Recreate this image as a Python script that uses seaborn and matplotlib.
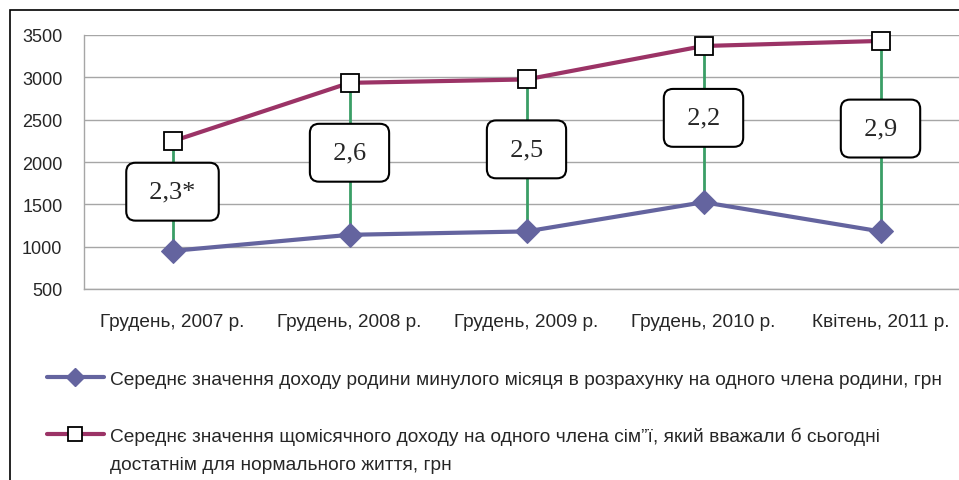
import matplotlib
matplotlib.use("Agg")
import matplotlib.pyplot as plt
from matplotlib.patches import Rectangle
from matplotlib.lines import Line2D
import seaborn as sns
import pandas as pd
import numpy as np

# data
periods = ["Грудень, 2007 р.", "Грудень, 2008 р.", "Грудень, 2009 р.",
           "Грудень, 2010 р.", "Квітень, 2011 р."]
actual_income = [950, 1140, 1180, 1525, 1180]
needed_income = [2245, 2935, 2975, 3370, 3430]
ratio_labels = ["2,3*", "2,6", "2,5", "2,2", "2,9"]

label_actual = ("Середнє значення доходу родини минулого місяця в розрахунку "
                "на одного члена родини, грн")
label_needed_1 = ("Середнє значення щомісячного доходу на одного члена сім”ї, "
                  "який вважали б сьогодні")
label_needed_2 = "достатнім для нормального життя, грн"

PURPLE = "#64649f"
PINK = "#9b3366"
GREEN = "#3a9e66"
GRID = "#a6a6a6"

sns.set_style("white")
plt.rcParams["font.family"] = ["Liberation Sans", "DejaVu Sans"]

df = pd.DataFrame({"period": periods, "actual": actual_income,
                   "needed": needed_income})
df["x"] = np.arange(len(df))

W, H = 959, 481
fig = plt.figure(figsize=(W / 100, H / 100), dpi=100)
ax = fig.add_axes([84 / W, 1 - 290 / H, 885 / W, 254 / H])

# outer frame
fig.add_artist(Rectangle((10 / W, -0.1), 1.2, 1 - 11 / H + 0.1,
                         transform=fig.transFigure, fill=False,
                         edgecolor="black", linewidth=1.2, zorder=0))

# high-low lines
ax.vlines(df["x"], df["actual"], df["needed"], color=GREEN, lw=2, zorder=2)

sns.lineplot(data=df, x="x", y="actual", ax=ax, color=PURPLE, lw=3,
             marker="D", markersize=12, markeredgecolor=PURPLE, zorder=3,
             clip_on=False)
sns.lineplot(data=df, x="x", y="needed", ax=ax, color=PINK, lw=3,
             marker="s", markersize=13, markerfacecolor="white",
             markeredgecolor="black", markeredgewidth=1.3, zorder=4,
             clip_on=False)

# ratio boxes, a bit above the middle of each high-low line
for i, r in df.iterrows():
    ypos = r["actual"] + 0.54 * (r["needed"] - r["actual"])
    ax.text(r["x"], ypos, "\u2009" + ratio_labels[i] + "\u2009",
            ha="center", va="center", fontsize=19,
            family=["Liberation Serif", "DejaVu Serif"], zorder=5,
            bbox=dict(boxstyle="round,pad=0.68,rounding_size=0.35",
                      facecolor="white", edgecolor="black", linewidth=1.5))

ax.set_xlim(-0.5, len(periods) - 0.5)
ax.set_ylim(500, 3500)
ax.set_yticks(range(500, 3501, 500))
ax.set_xticks(df["x"])
ax.set_xticklabels(periods)
ax.set_xticks(np.arange(-0.5, len(periods)), minor=True)
ax.set_xlabel("")
ax.set_ylabel("")
ax.grid(axis="y", color=GRID, lw=1)
ax.tick_params(axis="x", which="major", length=0, pad=17, labelsize=13.7)
ax.tick_params(axis="x", which="minor", length=7, color=GRID, width=1)
ax.tick_params(axis="y", length=7, color=GRID, width=1, pad=8.5,
               labelsize=13)
for side in ["top", "right"]:
    ax.spines[side].set_visible(False)
for side in ["left", "bottom"]:
    ax.spines[side].set_color(GRID)
    ax.spines[side].set_linewidth(1)

# legend below the plot
h1 = Line2D([], [], color=PURPLE, lw=3, marker="D", markersize=9,
            markeredgecolor=PURPLE)
h2 = Line2D([], [], color=PINK, lw=3, marker="s", markersize=10,
            markerfacecolor="white", markeredgecolor="black",
            markeredgewidth=1.3)
fig.legend([h1, h2], [label_actual, label_needed_1], loc="upper left",
           bbox_to_anchor=(39 / W, 1 - 364 / H), frameon=False,
           fontsize=13.8, handlelength=3.0, handletextpad=0.3,
           labelspacing=2.0, borderaxespad=0)
fig.text(110 / W, 1 - 466 / H, label_needed_2, fontsize=13.8, va="center",
         ha="left")

fig.savefig("out.png", dpi=100)
